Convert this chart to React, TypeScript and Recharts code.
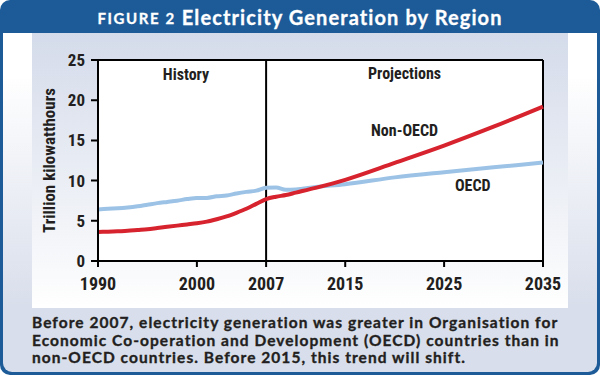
import React from "react";
import {
  LineChart,
  Line,
  XAxis,
  YAxis,
  CartesianGrid,
  ReferenceLine,
  ReferenceDot,
} from "recharts";

const years = [
  1990, 1991, 1992, 1993, 1994, 1995, 1996, 1997, 1998, 1999, 2000, 2001, 2002,
  2003, 2004, 2005, 2006, 2007, 2008, 2009, 2010, 2012, 2015, 2020, 2025, 2030,
  2035,
];
const oecd = [
  6.4, 6.5, 6.55, 6.65, 6.8, 7.0, 7.2, 7.35, 7.5, 7.7, 7.85, 7.85, 8.05, 8.15,
  8.4, 8.6, 8.75, 9.1, 9.15, 8.85, 8.9, 9.2, 9.55, 10.4, 11.05, 11.65, 12.25,
];
const nonOecd = [
  3.6, 3.65, 3.7, 3.75, 3.85, 3.95, 4.1, 4.25, 4.4, 4.55, 4.7, 4.9, 5.2, 5.55,
  6.0, 6.5, 7.1, 7.7, 8.0, 8.2, 8.5, 9.1, 10.1, 12.2, 14.35, 16.7, 19.2,
];
const xTicks = [1990, 2000, 2007, 2015, 2025, 2035];
const yTicks = [0, 5, 10, 15, 20, 25];
const annotations = [
  { text: "History", x: 1998.9, y: 23.2 },
  { text: "Projections", x: 2021.0, y: 23.3 },
  { text: "Non-OECD", x: 2021.0, y: 16.2 },
  { text: "OECD", x: 2027.9, y: 9.45 },
];
const divider = 2007;
const title = "Electricity Generation by Region";
const figureLabel = "FIGURE 2";
const yLabel = "Trillion kilowatthours";
const captionLines = [
  "Before 2007, electricity generation was greater in Organisation for",
  "Economic Co-operation and Development (OECD) countries than in",
  "non-OECD countries. Before 2015, this trend will shift.",
];

const data = years.map((yr, i) => ({ year: yr, oecd: oecd[i], nonOecd: nonOecd[i] }));

const NARROW = "'Liberation Sans Narrow', 'Roboto Condensed', 'Liberation Sans', Arial, sans-serif";
const TEXT = "#231f20";
const BLUE = "#1d5b98";

const AnnotationLabel = (text: string) => (props: any) => {
  const { viewBox } = props;
  const cx = viewBox.x + (viewBox.width || 0) / 2;
  const cy = viewBox.y + (viewBox.height || 0) / 2;
  return (
    <text
      x={cx}
      y={cy}
      textAnchor="middle"
      dominantBaseline="central"
      fontFamily={NARROW}
      fontWeight="bold"
      fontSize={16}
      fill={TEXT}
    >
      {text}
    </text>
  );
};

export default function App() {
  return (
    <div
      style={{
        position: "absolute",
        left: 0,
        top: 0,
        width: 600,
        height: 375,
        background: BLUE,
        borderRadius: 10,
        overflow: "hidden",
      }}
    >
      <div
        style={{
          position: "absolute",
          left: 0,
          top: 0,
          width: 600,
          height: 34,
          display: "flex",
          alignItems: "center",
          justifyContent: "center",
          color: "#fff",
          fontFamily: "Lato, 'Open Sans', sans-serif",
          fontWeight: 700,
          WebkitTextStroke: "0.3px #fff",
        }}
      >
        <span style={{ fontSize: 15, letterSpacing: 1.6, marginRight: 6, marginTop: 2 }}>
          {figureLabel}
        </span>
        <span style={{ fontSize: 20, letterSpacing: 1.1 }}>{title}</span>
      </div>
      <div
        style={{
          position: "absolute",
          left: 3,
          top: 33,
          width: 594,
          height: 339,
          background: "#d8deeb",
          borderRadius: "0 0 9px 9px",
          overflow: "hidden",
        }}
      >
        <div
          style={{
            position: "absolute",
            left: 0,
            top: 0,
            width: 29,
            height: 275,
            background: "linear-gradient(#ffffff, #ffffff 15%, #d8deeb)",
          }}
        />
        <div
          style={{
            position: "absolute",
            left: 565,
            top: 0,
            width: 29,
            height: 275,
            background: "linear-gradient(#ffffff, #ffffff 15%, #d8deeb)",
          }}
        />
        <div
          style={{
            position: "absolute",
            left: 29,
            top: 0,
            width: 536,
            height: 275,
            background: "linear-gradient(#d4dbea, #f8f9fb 85%, #ffffff)",
          }}
        />
        <div
          style={{
            position: "absolute",
            left: 29,
            top: 281,
            width: 560,
            fontFamily: "Lato, 'Open Sans', sans-serif",
            fontWeight: 700,
            fontSize: 15.5,
            letterSpacing: 1.05,
            lineHeight: "17.5px",
            color: TEXT,
            whiteSpace: "nowrap",
            WebkitTextStroke: `0.35px ${TEXT}`,
          }}
        >
          {captionLines.map((l, i) => (
            <div key={i}>{l}</div>
          ))}
        </div>
      </div>
      <div style={{ position: "absolute", left: 0, top: 0 }}>
        <LineChart
          width={600}
          height={375}
          data={data}
          margin={{ top: 60, right: 57, left: 0, bottom: 84 }}
        >
          <CartesianGrid fill="#ffffff" horizontal={false} vertical={false} />
          <XAxis
            dataKey="year"
            type="number"
            domain={[1990, 2035]}
            ticks={xTicks}
            interval={0}
            height={30}
            tickSize={6}
            axisLine={{ stroke: "#000", strokeWidth: 2 }}
            tickLine={{ stroke: "#000", strokeWidth: 2 }}
            tick={{ fill: TEXT, fontFamily: NARROW, fontWeight: "bold", fontSize: 18 }}
            tickMargin={10}
          />
          <YAxis
            type="number"
            domain={[0, 25]}
            ticks={yTicks}
            interval={0}
            width={98}
            tickSize={7}
            axisLine={{ stroke: "#000", strokeWidth: 2 }}
            tickLine={{ stroke: "#000", strokeWidth: 2 }}
            tick={{ fill: TEXT, fontFamily: NARROW, fontWeight: "bold", fontSize: 17 }}
            tickMargin={6}
            label={{
              value: yLabel,
              angle: -90,
              position: "insideLeft",
              offset: 49,
              style: {
                fill: TEXT,
                fontFamily: NARROW,
                fontWeight: "bold",
                fontSize: 17,
                textAnchor: "middle",
              },
            }}
          />
          <ReferenceLine y={25} stroke="#000" strokeWidth={2} />
          <ReferenceLine x={2035} stroke="#000" strokeWidth={2} />
          <ReferenceLine x={divider} stroke="#000" strokeWidth={2} />
          <Line
            type="monotone"
            dataKey="oecd"
            stroke="#9cc3e6"
            strokeWidth={4}
            dot={false}
            isAnimationActive={false}
          />
          <Line
            type="monotone"
            dataKey="nonOecd"
            stroke="#d7232e"
            strokeWidth={4}
            dot={false}
            isAnimationActive={false}
          />
          {annotations.map((a) => (
            <ReferenceDot
              key={a.text}
              x={a.x}
              y={a.y}
              r={0}
              fill="none"
              stroke="none"
              label={AnnotationLabel(a.text)}
            />
          ))}
        </LineChart>
      </div>
    </div>
  );
}
